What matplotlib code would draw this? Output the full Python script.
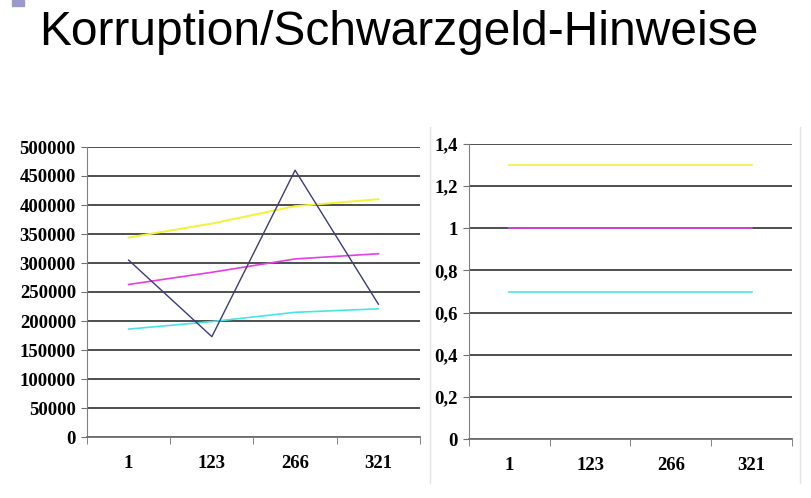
import matplotlib
matplotlib.use("Agg")
from matplotlib import pyplot as plt
from matplotlib.patches import Rectangle
from matplotlib.lines import Line2D

# Daten
kategorien = ["1", "123", "266", "321"]
gelb = [344000, 368000, 398000, 410000]
magenta = [263000, 284000, 307000, 316000]
cyan = [186000, 199000, 215000, 221000]
dunkelblau = [305000, 173000, 460000, 229000]

rechts_gelb = [1.3, 1.3, 1.3, 1.3]
rechts_magenta = [1.0, 1.0, 1.0, 1.0]
rechts_cyan = [0.7, 0.7, 0.7, 0.7]

links_ticks = [0, 50000, 100000, 150000, 200000, 250000, 300000, 350000, 400000, 450000, 500000]
rechts_ticks = [0, 0.2, 0.4, 0.6, 0.8, 1.0, 1.2, 1.4]
rechts_tick_labels = ["0", "0,2", "0,4", "0,6", "0,8", "1", "1,2", "1,4"]

farben = {"gelb": "#f2f23a", "magenta": "#e53ee5", "cyan": "#45e6e6", "blau": "#3b3b80"}
tick_font = dict(family="Liberation Serif", weight="bold", size=13.5)

fig = plt.figure(figsize=(8.12, 4.98), dpi=100)
fig.patch.set_facecolor("white")

# Titel und kleines Quadrat oben links
fig.text(39 / 812, 1 - 45 / 498, "Korruption/Schwarzgeld-Hinweise",
         family="Liberation Sans", size=34.5, color="black", va="baseline")
fig.patches.append(Rectangle((12 / 812, 1 - 6 / 498), 12 / 812, 6 / 498,
                             transform=fig.transFigure, color="#9a9acc", zorder=0))

# feine senkrechte Linien um das rechte Diagramm
for xp in [430, 800]:
    fig.lines.append(Line2D([xp / 812, xp / 812], [1 - 483 / 498, 1 - 127 / 498],
                            transform=fig.transFigure, color="#e4e4e4", lw=1))


def stil(ax, ticks, labels, ymax):
    x = list(range(len(kategorien)))
    ax.set_xlim(-0.5, len(kategorien) - 0.5)
    ax.set_ylim(0, ymax)
    ax.set_yticks(ticks)
    ax.set_yticklabels(labels, fontdict=tick_font)
    ax.set_xticks(x)
    ax.set_xticklabels(kategorien, fontdict=tick_font)
    ax.set_xticks([i - 0.5 for i in range(len(kategorien) + 1)], minor=True)
    ax.tick_params(axis="x", which="major", length=0, pad=13)
    ax.tick_params(axis="x", which="minor", length=5, color="#707070", direction="out")
    ax.tick_params(axis="y", length=4, color="#707070", pad=4)
    ax.yaxis.grid(True, color="#404040", linewidth=1.3)
    ax.set_axisbelow(True)
    for s in ["top", "right"]:
        ax.spines[s].set_visible(False)
    ax.spines["left"].set_color("#808080")
    ax.spines["bottom"].set_color("#707070")
    ax.spines["bottom"].set_linewidth(1.3)
    return x


# Linkes Diagramm
ax1 = fig.add_axes([87 / 812, 1 - 437 / 498, 333 / 812, 290 / 498])
x = stil(ax1, links_ticks, [str(t) for t in links_ticks], 500000)
ax1.plot(x, gelb, color=farben["gelb"], lw=1.4)
ax1.plot(x, magenta, color=farben["magenta"], lw=1.2)
ax1.plot(x, cyan, color=farben["cyan"], lw=1.2)
ax1.plot(x, dunkelblau, color=farben["blau"], lw=1.0)

# Rechtes Diagramm
ax2 = fig.add_axes([469 / 812, 1 - 439 / 498, 323 / 812, 295 / 498])
x = stil(ax2, rechts_ticks, rechts_tick_labels, 1.4)
ax2.plot(x, rechts_gelb, color=farben["gelb"], lw=1.2)
ax2.plot(x, rechts_magenta, color=farben["magenta"], lw=1.2)
ax2.plot(x, rechts_cyan, color=farben["cyan"], lw=1.2)

fig.savefig("out.png", dpi=100)
